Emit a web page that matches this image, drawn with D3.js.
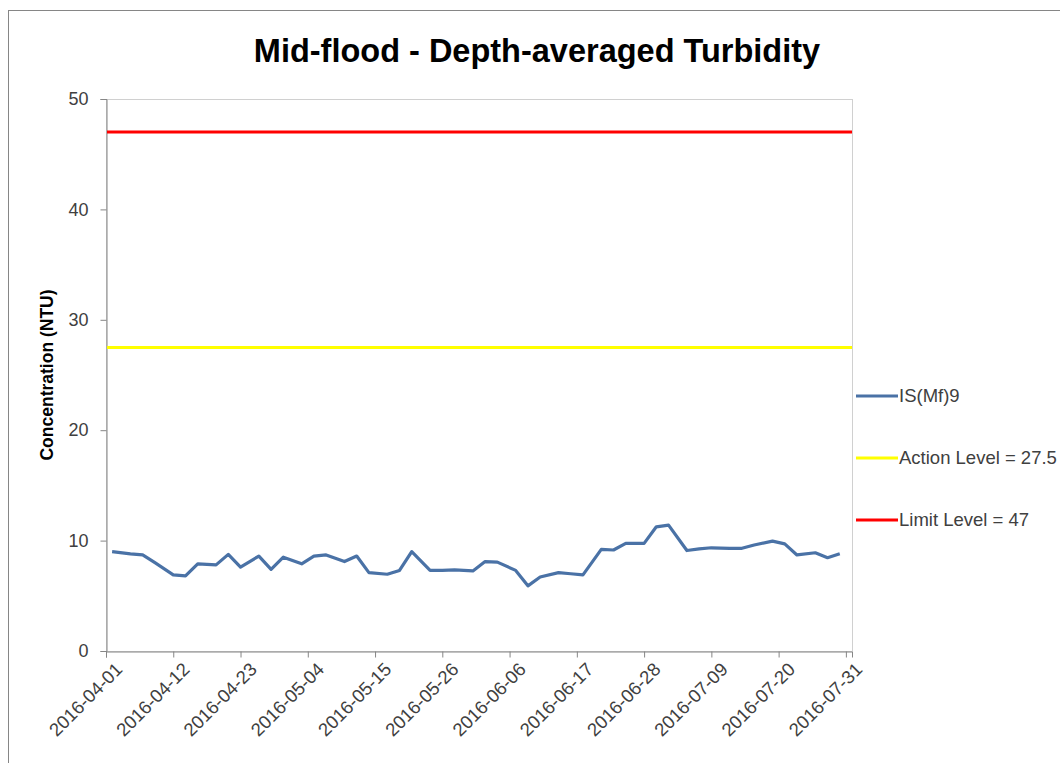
<!DOCTYPE html>
<html><head><meta charset="utf-8">
<script src="https://cdn.jsdelivr.net/npm/d3@7"></script>
<style>body{margin:0;background:#fff;} svg{display:block;}</style>
</head><body>
<svg id="chart" width="1060" height="763"></svg>
<script>
const title = "Mid-flood - Depth-averaged Turbidity";
const yAxisTitle = "Concentration (NTU)";
const dates = ["2016-04-02","2016-04-05","2016-04-07","2016-04-09","2016-04-12","2016-04-14","2016-04-16","2016-04-19","2016-04-21","2016-04-23","2016-04-26","2016-04-28","2016-04-30","2016-05-03","2016-05-05","2016-05-07","2016-05-10","2016-05-12","2016-05-14","2016-05-17","2016-05-19","2016-05-21","2016-05-24","2016-05-26","2016-05-28","2016-05-31","2016-06-02","2016-06-04","2016-06-07","2016-06-09","2016-06-11","2016-06-14","2016-06-16","2016-06-18","2016-06-21","2016-06-23","2016-06-25","2016-06-28","2016-06-30","2016-07-02","2016-07-05","2016-07-07","2016-07-09","2016-07-12","2016-07-14","2016-07-16","2016-07-19","2016-07-21","2016-07-23","2016-07-26","2016-07-28","2016-07-30"];
const turbidity = [9.0,8.8,8.7,8.0,6.9,6.8,7.9,7.8,8.75,7.6,8.6,7.4,8.5,7.9,8.6,8.7,8.1,8.6,7.1,6.95,7.3,9.0,7.3,7.3,7.35,7.25,8.1,8.05,7.3,5.9,6.7,7.1,7.0,6.9,9.2,9.15,9.75,9.75,11.25,11.4,9.1,9.25,9.35,9.3,9.3,9.6,9.95,9.7,8.7,8.9,8.45,8.8];
const actionLevel = 27.5;
const limitLevel = 47;
const seriesNames = ["IS(Mf)9","Action Level = 27.5","Limit Level = 47"];
const seriesColors = ["#4A72A6","#FFFF00","#FF0000"];
const xTickLabels = ["2016-04-01","2016-04-12","2016-04-23","2016-05-04","2016-05-15","2016-05-26","2016-06-06","2016-06-17","2016-06-28","2016-07-09","2016-07-20","2016-07-31"];
const yTicks = [0,10,20,30,40,50];

const parse = d3.utcParse("%Y-%m-%d");
const svg = d3.select("#chart");
const font = "'Liberation Sans', Arial, sans-serif";

// outer chart border
svg.append("rect").attr("x",8.5).attr("y",10.5).attr("width",1100).attr("height",800)
  .attr("fill","#fff").attr("stroke","#868686").attr("stroke-width",1);

const m = {left:106, right:852, top:99, bottom:651};
const x = d3.scaleUtc().domain([parse("2016-04-01"), parse("2016-08-01")]).range([m.left, m.right]);
const y = d3.scaleLinear().domain([0,50]).range([m.bottom, m.top]);

// title
svg.append("text").attr("x",537).attr("y",62).attr("text-anchor","middle")
  .attr("font-family",font).attr("font-weight","bold").attr("font-size",32.5).attr("fill","#000")
  .text(title);

// plot area border
svg.append("rect").attr("x",m.left+0.5).attr("y",m.top+0.5).attr("width",m.right-m.left).attr("height",m.bottom-m.top)
  .attr("fill","none").attr("stroke","#d0d0d0");

// y axis
const yAx = svg.append("g").attr("transform",`translate(${m.left+0.5},0)`)
  .call(d3.axisLeft(y).tickValues(yTicks).tickSize(6).tickPadding(12));
yAx.select(".domain").attr("stroke","#868686");
yAx.selectAll(".tick line").attr("stroke","#868686");
yAx.selectAll(".tick text").attr("font-family",font).attr("font-size",18).attr("fill","#404040");

// x axis
const xAx = svg.append("g").attr("transform",`translate(0,${m.bottom+0.5})`)
  .call(d3.axisBottom(x).tickValues(xTickLabels.map(parse)).tickFormat(d3.utcFormat("%Y-%m-%d")).tickSize(6).tickPadding(4));
xAx.select(".domain").attr("stroke","#868686");
xAx.selectAll(".tick line").attr("stroke","#868686");
xAx.selectAll(".tick text").attr("font-family",font).attr("font-size",18.5).attr("fill","#404040")
  .attr("text-anchor","end").attr("dy","0").attr("transform","translate(10,12) rotate(-45)");

// y axis title
svg.append("text").attr("transform","translate(53,375) rotate(-90)").attr("text-anchor","middle")
  .attr("font-family",font).attr("font-weight","bold").attr("font-size",17.5).attr("fill","#000")
  .text(yAxisTitle);

// level lines
const xr = x.range();
svg.append("line").attr("x1",xr[0]+1).attr("x2",xr[1]).attr("y1",y(actionLevel)).attr("y2",y(actionLevel))
  .attr("stroke",seriesColors[1]).attr("stroke-width",3);
svg.append("line").attr("x1",xr[0]+1).attr("x2",xr[1]).attr("y1",y(limitLevel)).attr("y2",y(limitLevel))
  .attr("stroke",seriesColors[2]).attr("stroke-width",3);

// series line
const data = dates.map((d,i)=>({date:parse(d), v:turbidity[i]}));
svg.append("path").datum(data)
  .attr("d", d3.line().x(d=>x(d.date)).y(d=>y(d.v)))
  .attr("fill","none").attr("stroke",seriesColors[0]).attr("stroke-width",3.2).attr("stroke-linejoin","round");

// legend
const legY = [396,458,520];
seriesNames.forEach((n,i)=>{
  svg.append("line").attr("x1",856).attr("x2",898).attr("y1",legY[i]).attr("y2",legY[i])
    .attr("stroke",seriesColors[i]).attr("stroke-width",3);
  svg.append("text").attr("x",899).attr("y",legY[i]+6).attr("font-family",font).attr("font-size",18.5)
    .attr("fill","#404040").text(n);
});
</script>
</body></html>
